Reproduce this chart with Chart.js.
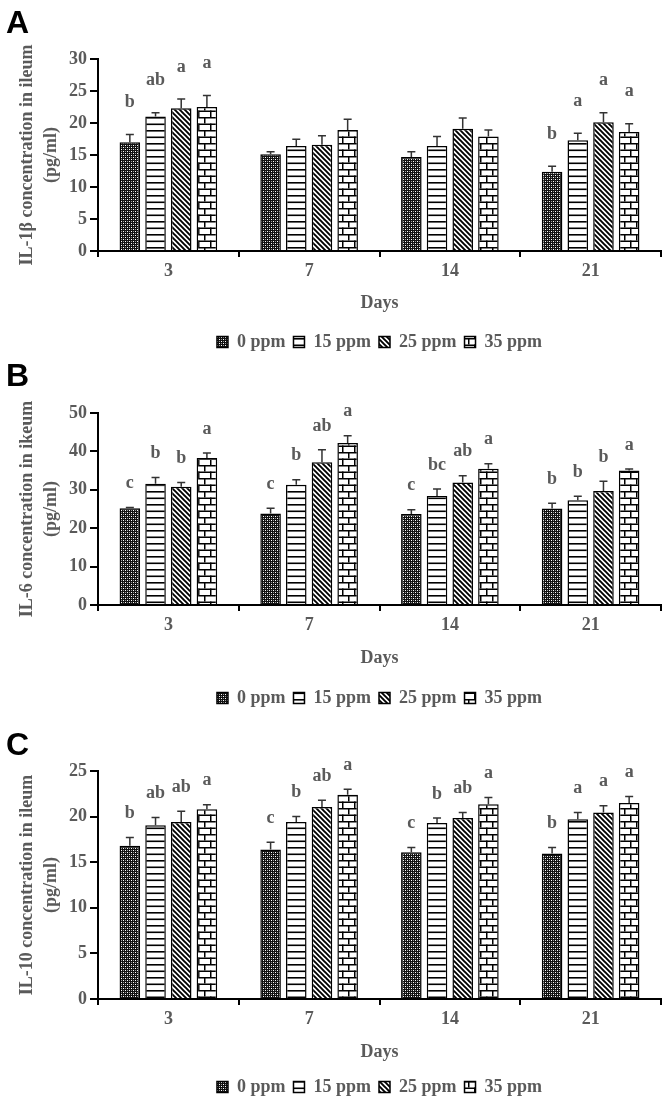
<!DOCTYPE html>
<html lang="en">
<head>
  <meta charset="UTF-8">
  <title>Cytokine concentration in ileum</title>
  <script src="https://cdn.jsdelivr.net/npm/chart.js"></script>
  <style>
    html, body { margin: 0; padding: 0; background: #fff; overflow: hidden; }
    #page { position: relative; width: 664px; height: 1098px; }
    .panel { position: absolute; left: 0; }
    .tag { position: absolute; left: 6px; font: bold 32px "Liberation Sans", Arial, sans-serif; line-height: 1; color: #000; z-index: 2; }
  </style>
</head>
<body>
  <div id="page">
    <canvas id="chartA" class="panel" style="top:0" width="664" height="361"></canvas>
    <canvas id="chartB" class="panel" style="top:361px" width="664" height="356"></canvas>
    <canvas id="chartC" class="panel" style="top:717px" width="664" height="389"></canvas>
    <div class="tag" style="top:6px">A</div>
    <div class="tag" style="top:359px">B</div>
    <div class="tag" style="top:728px">C</div>
  </div>

  <script>
    const days = ['3', '7', '14', '21'];
    const doses = ['0 ppm', '15 ppm', '25 ppm', '35 ppm'];

    // A - IL-1beta (pg/ml), mean and SE per dose, across days
    const il1b0 = [17.0, 15.1, 14.7, 12.4];
    const il1b15 = [21.0, 16.4, 16.4, 17.3];
    const il1b25 = [22.3, 16.6, 19.1, 20.1];
    const il1b35 = [22.5, 18.9, 17.9, 18.6];
    const il1bSe0 = [1.2, 0.4, 0.8, 0.85];
    const il1bSe15 = [0.6, 1.05, 1.5, 1.1];
    const il1bSe25 = [1.45, 1.4, 1.7, 1.5];
    const il1bSe35 = [1.8, 1.7, 1.0, 1.3];
    const il1bLet0 = ['b', '', '', 'b'];
    const il1bLet15 = ['ab', '', '', 'a'];
    const il1bLet25 = ['a', '', '', 'a'];
    const il1bLet35 = ['a', '', '', 'a'];

    // B - IL-6
    const il6_0 = [25.2, 23.8, 23.7, 25.1];
    const il6_15 = [31.6, 31.3, 28.4, 27.3];
    const il6_25 = [30.8, 37.2, 31.9, 29.7];
    const il6_35 = [38.3, 42.2, 35.5, 35.0];
    const il6Se0 = [0.2, 1.4, 1.1, 1.4];
    const il6Se15 = [1.6, 1.3, 1.8, 1.0];
    const il6Se25 = [1.1, 3.2, 1.75, 2.5];
    const il6Se35 = [1.3, 1.9, 1.3, 0.4];
    const il6Let0 = ['c', 'c', 'c', 'b'];
    const il6Let15 = ['b', 'b', 'bc', 'b'];
    const il6Let25 = ['b', 'ab', 'ab', 'b'];
    const il6Let35 = ['a', 'a', 'a', 'a'];

    // C - IL-10
    const il10_0 = [16.8, 16.4, 16.1, 15.95];
    const il10_15 = [19.05, 19.4, 19.3, 19.7];
    const il10_25 = [19.4, 21.05, 19.85, 20.45];
    const il10_35 = [20.8, 22.4, 21.35, 21.5];
    const il10Se0 = [0.9, 0.8, 0.5, 0.65];
    const il10Se15 = [0.85, 0.6, 0.55, 0.75];
    const il10Se25 = [1.2, 0.75, 0.6, 0.75];
    const il10Se35 = [0.5, 0.6, 0.75, 0.7];
    const il10Let0 = ['b', 'c', 'c', 'b'];
    const il10Let15 = ['ab', 'b', 'b', 'a'];
    const il10Let25 = ['ab', 'ab', 'ab', 'a'];
    const il10Let35 = ['a', 'a', 'a', 'a'];

    const grey = '#5a5a5a';
    const serif = (size, lh) => ({ family: '"Liberation Serif", "Times New Roman", serif', size: size, weight: 'bold', lineHeight: lh || 1.2 });

    // fill patterns for the four doses
    function tile(w, h, draw) {
      const c = document.createElement('canvas');
      c.width = w; c.height = h;
      const g = c.getContext('2d');
      g.fillStyle = '#fff';
      g.fillRect(0, 0, w, h);
      draw(g);
      return g.createPattern(c, 'repeat');
    }
    const patterns = [
      tile(4, 4, g => {
        g.fillStyle = '#111'; g.fillRect(0, 0, 4, 4);
        g.fillStyle = '#fff'; g.fillRect(1, 1, 1, 1); g.fillRect(3, 3, 1, 1);
        g.fillStyle = '#999'; g.fillRect(1, 3, 1, 1); g.fillRect(3, 1, 1, 1);
      }),
      tile(8, 13, g => {
        g.fillStyle = '#000'; g.fillRect(0, 0, 8, 1.6); g.fillRect(0, 6.5, 8, 1.6);
      }),
      tile(5, 5, g => {
        g.strokeStyle = '#000'; g.lineWidth = 1.9;
        g.beginPath();
        g.moveTo(-1, -1); g.lineTo(6, 6);
        g.moveTo(-1, 4); g.lineTo(1, 6);
        g.moveTo(4, -1); g.lineTo(6, 1);
        g.stroke();
      }),
      tile(12, 13, g => {
        g.fillStyle = '#000';
        g.fillRect(0, 0, 12, 1.5); g.fillRect(0, 6.5, 12, 1.5);
        g.fillRect(0, 0, 1.5, 6.5); g.fillRect(6, 6.5, 1.5, 6.5);
      })
    ];

    const errorBars = {
      id: 'errorBars',
      afterDatasetsDraw(chart, args, opts) {
        const ctx = chart.ctx;
        const yScale = chart.scales.y;
        ctx.save();
        ctx.font = 'bold 18px "Liberation Serif", "Times New Roman", serif';
        ctx.textAlign = 'center';
        ctx.textBaseline = 'middle';
        chart.data.datasets.forEach((ds, i) => {
          chart.getDatasetMeta(i).data.forEach((bar, j) => {
            const top = yScale.getPixelForValue(ds.data[j] + ds.errs[j]);
            ctx.strokeStyle = '#333';
            ctx.lineWidth = 1.5;
            ctx.beginPath();
            ctx.moveTo(bar.x, bar.y);
            ctx.lineTo(bar.x, top);
            ctx.moveTo(bar.x - 4, top);
            ctx.lineTo(bar.x + 4, top);
            ctx.stroke();
            if (ds.letters[j]) {
              ctx.fillStyle = grey;
              ctx.fillText(ds.letters[j], bar.x, top - opts.gap);
            }
          });
        });
        ctx.restore();
      }
    };

    function makeChart(id, p) {
      return new Chart(document.getElementById(id), {
        type: 'bar',
        data: {
          labels: days,
          datasets: p.series.map((vals, i) => ({
            label: doses[i],
            data: vals,
            errs: p.errs[i],
            letters: p.letters[i],
            backgroundColor: patterns[i],
            borderColor: '#000',
            borderWidth: 1.5,
            barPercentage: 0.8,
            categoryPercentage: 0.73
          }))
        },
        options: {
          responsive: false,
          animation: false,
          layout: { padding: { top: p.top, right: 3, bottom: 0, left: 0 } },
          plugins: {
            legend: {
              position: 'bottom',
              fullSize: false,
              labels: { boxWidth: 11, boxHeight: 11, padding: 8, color: grey, font: serif(18) }
            },
            tooltip: { enabled: false },
            errorBars: { gap: p.gap }
          },
          scales: {
            x: {
              grid: { drawOnChartArea: false, tickLength: 6, color: '#000', lineWidth: 2, offset: true },
              border: { color: '#000', width: 2 },
              ticks: { color: grey, font: serif(18), padding: 4 },
              title: { display: true, text: 'Days', color: grey, font: serif(18), padding: { top: 0, bottom: p.daysPad } },
              afterFit: s => { s.height = p.xHeight; }
            },
            y: {
              min: 0,
              max: p.max,
              ticks: { stepSize: p.step, color: grey, font: serif(18), padding: 3 },
              grid: { drawOnChartArea: false, tickLength: 8, color: '#000', lineWidth: 2 },
              border: { color: '#000', width: 2 },
              title: { display: true, text: p.title, color: grey, font: serif(18, 1.333), padding: { top: 15, bottom: 0 } },
              afterFit: s => { s.width = 98; }
            }
          }
        },
        plugins: [errorBars]
      });
    }

    makeChart('chartA', {
      series: [il1b0, il1b15, il1b25, il1b35],
      errs: [il1bSe0, il1bSe15, il1bSe25, il1bSe35],
      letters: [il1bLet0, il1bLet15, il1bLet25, il1bLet35],
      title: ['IL-1β concentration in ileum', '(pg/ml)'],
      max: 30, step: 5, top: 59, xHeight: 74, daysPad: 11, gap: 32
    });

    makeChart('chartB', {
      series: [il6_0, il6_15, il6_25, il6_35],
      errs: [il6Se0, il6Se15, il6Se25, il6Se35],
      letters: [il6Let0, il6Let15, il6Let25, il6Let35],
      title: ['IL-6 concentration in ikeum', '(pg/ml)'],
      max: 50, step: 10, top: 52, xHeight: 76, daysPad: 12, gap: 24
    });

    makeChart('chartC', {
      series: [il10_0, il10_15, il10_25, il10_35],
      errs: [il10Se0, il10Se15, il10Se25, il10Se35],
      letters: [il10Let0, il10Let15, il10Let25, il10Let35],
      title: ['IL-10 concentration in ileum', '(pg/ml)'],
      max: 25, step: 5, top: 54, xHeight: 71, daysPad: 7, gap: 24
    });
  </script>
</body>
</html>
